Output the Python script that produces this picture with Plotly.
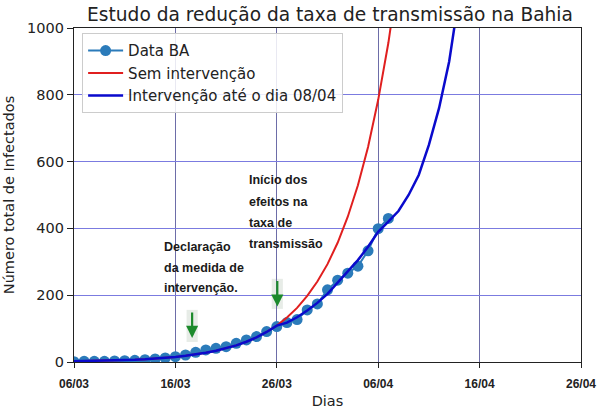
import plotly.graph_objects as go

# ---------------- data ----------------
data_days = list(range(32))
data_cases = [1, 2, 2, 2, 3, 4, 5, 7, 9, 12, 16, 21, 29, 36, 41, 46, 56, 66, 76, 91,
              106, 118, 127, 156, 174, 216, 245, 266, 287, 333, 399, 430]

red_days = list(range(33))
red_cases = [2.1, 2.6, 3.2, 3.8, 4.7, 5.7, 6.9, 8.4, 10.3, 12.5, 15.3, 18.6, 22.6, 27.6,
             33.6, 40.9, 49.8, 60.6, 73.8, 89.9, 109, 133, 162, 198, 241, 293, 357, 435,
             529, 644, 785, 955, 1163]

blue_days = list(range(39))
blue_cases = [2.1, 2.6, 3.2, 3.8, 4.7, 5.7, 6.9, 8.4, 10.3, 12.5, 15.3, 18.6, 22.6, 27.6,
              33.6, 40.9, 49.8, 60.6, 73.8, 89.9, 109, 118, 134, 154, 177, 204, 238, 270,
              305, 345, 390, 420, 452, 500, 560, 650, 760, 900, 1100]

x_tickvals = [0, 10, 20, 30, 40, 50]
x_ticktext = ["06/03", "16/03", "26/03", "06/04", "16/04", "26/04"]
y_tickvals = [0, 200, 400, 600, 800, 1000]

series_names = ["Data BA", "Sem intervenção", "Intervenção até o dia 08/04"]
title_text = "Estudo da redução da taxa de transmissão na Bahia"
note_left = ["Declaração", "da medida de", "intervenção."]
note_right = ["Início dos", "efeitos na", "taxa de", "transmissão"]

# ---------------- figure ----------------
fig = go.Figure()
fig.add_trace(go.Scatter(x=data_days, y=data_cases, mode="lines+markers",
                         name=series_names[0],
                         line=dict(color="#2b7bba", width=2),
                         marker=dict(color="#2b7bba", size=11)))
fig.add_trace(go.Scatter(x=red_days, y=red_cases, mode="lines", name=series_names[1],
                         line=dict(color="#e01f1f", width=2)))
fig.add_trace(go.Scatter(x=blue_days, y=blue_cases, mode="lines", name=series_names[2],
                         line=dict(color="#0a0acc", width=2.5)))

txt_font = dict(family="Liberation Sans, Arial, sans-serif", size=12.5, color="#1a1a1a")
for line, yv in zip(note_left, [343, 281, 221]):
    fig.add_annotation(x=8.69, y=yv, xref="x", yref="y", text="<b>%s</b>" % line,
                       showarrow=False, xanchor="left", yanchor="middle", font=txt_font)
for line, yv in zip(note_right, [545, 480, 415, 352]):
    fig.add_annotation(x=17.06, y=yv, xref="x", yref="y", text="<b>%s</b>" % line,
                       showarrow=False, xanchor="left", yanchor="middle", font=txt_font)

# hatched-looking backgrounds behind the green arrows
fig.add_shape(type="rect", xref="x", yref="y", x0=11.1, x1=12.2, y0=60, y1=156,
              fillcolor="rgba(170,185,170,0.28)", line=dict(width=0), layer="below")
fig.add_shape(type="rect", xref="x", yref="y", x0=19.5, x1=20.6, y0=159, y1=249,
              fillcolor="rgba(170,185,170,0.28)", line=dict(width=0), layer="below")
for ax_, ay_ in [(11.65, 72), (20.05, 166)]:
    fig.add_annotation(x=ax_, y=ay_, xref="x", yref="y", text="", showarrow=True,
                       arrowhead=2, arrowsize=1.1, arrowwidth=2.2, arrowcolor="#1c8a2c",
                       ax=0, ay=-27)

axis_font = dict(family="DejaVu Sans, sans-serif", size=14.5, color="#222222")
fig.update_layout(
    width=600, height=412,
    margin=dict(l=74, r=19, t=28, b=50),
    paper_bgcolor="white", plot_bgcolor="white",
    title=dict(text=title_text, x=0.55, xanchor="center", y=0.966, yanchor="middle",
               font=dict(family="DejaVu Sans, sans-serif", size=18.6, color="#222222")),
    showlegend=True,
    legend=dict(x=0.016, y=0.984, xanchor="left", yanchor="top",
                bgcolor="rgba(255,255,255,0.85)", bordercolor="#cccccc", borderwidth=1,
                font=dict(family="DejaVu Sans, sans-serif", size=15, color="#222222"),
                tracegroupgap=0, itemwidth=35),
    xaxis=dict(range=[0, 50], tickvals=x_tickvals, automargin=False,
               ticktext=["<b>%s</b>" % t for t in x_ticktext],
               tickfont=dict(family="Liberation Sans, Arial, sans-serif", size=12, color="#222222"),
               ticks="outside", ticklen=5, tickcolor="#222222", ticklabelstandoff=5,
               showline=True, linecolor="#222222", linewidth=1.3, mirror=True,
               showgrid=True, gridcolor="#6d6da8", gridwidth=1, zeroline=False,
               title=dict(text="Dias", font=axis_font, standoff=6)),
    yaxis=dict(range=[0, 1000], tickvals=y_tickvals, tickfont=axis_font, automargin=False,
               ticks="outside", ticklen=6, tickcolor="#222222",
               showline=True, linecolor="#222222", linewidth=1.3, mirror=True,
               showgrid=True, gridcolor="#7b7be0", gridwidth=1, zeroline=False,
               title=dict(text="Número total de Infectados", font=axis_font, standoff=8)),
)

fig.write_html("out.html", config={"displayModeBar": False},
               post_script="document.body.style.margin='0';document.body.style.overflow='hidden';")
